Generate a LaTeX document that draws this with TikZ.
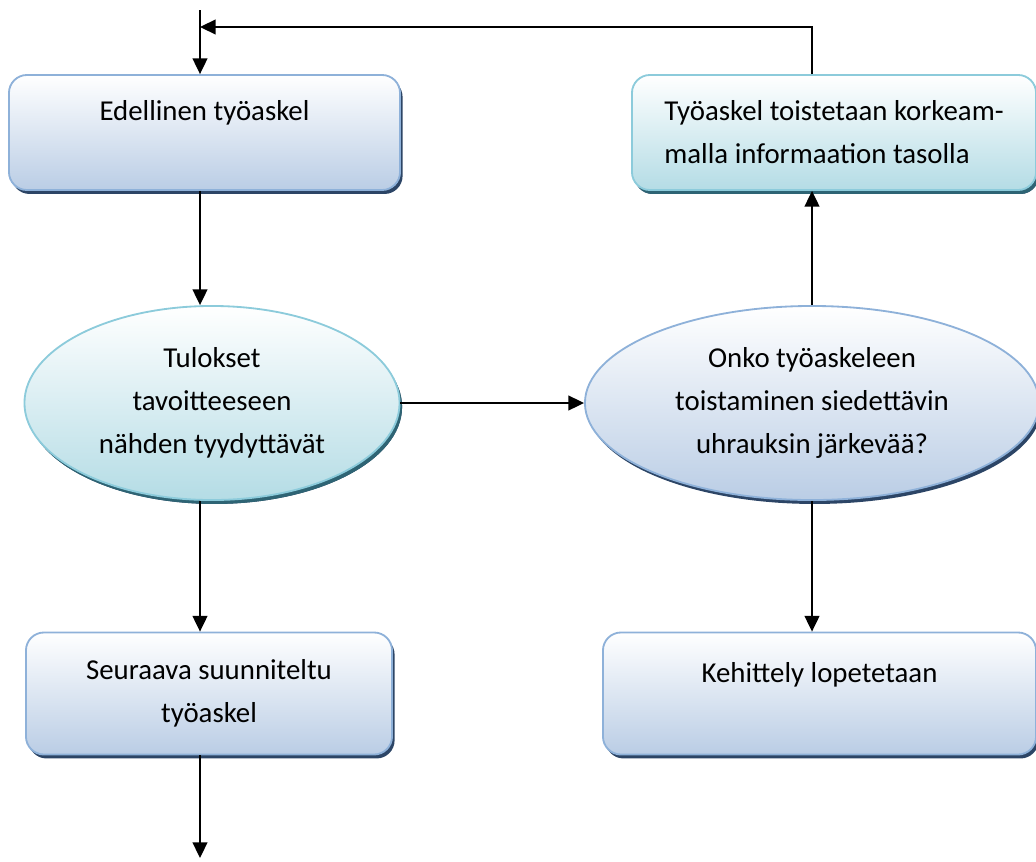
\documentclass[tikz,border=0pt]{standalone}
\usepackage{fontspec}
\setmainfont{Carlito}
\usetikzlibrary{arrows.meta,shapes.geometric,shadows}

\definecolor{blueedge}{HTML}{8EB1D9}
\definecolor{bluefill}{HTML}{BACDE5}
\definecolor{blueshade}{HTML}{2C4566}
\definecolor{tealedge}{HTML}{8CCBDB}
\definecolor{tealfill}{HTML}{B4DCE5}
\definecolor{tealshade}{HTML}{2E6474}

\tikzset{every node/.style={font=\fontsize{20.5}{30.6}\selectfont,inner sep=0pt,align=center}}
\tikzset{stepbox/.style={rectangle,rounded corners=0.45cm,line width=1.3pt,draw=blueedge,top color=white,bottom color=bluefill,minimum height=2.875cm,drop shadow={shadow xshift=1.8pt,shadow yshift=-2.8pt,fill=blueshade,opacity=1}}}
\tikzset{tealbox/.style={stepbox,draw=tealedge,bottom color=tealfill,drop shadow={shadow xshift=1.8pt,shadow yshift=-2.8pt,fill=tealshade,opacity=1}}}
\tikzset{askoval/.style={ellipse,line width=1.3pt,draw=blueedge,top color=white,bottom color=bluefill,minimum height=4.85cm,drop shadow={shadow xshift=1.8pt,shadow yshift=-2.8pt,fill=blueshade,opacity=1}}}
\tikzset{tealoval/.style={askoval,draw=tealedge,bottom color=tealfill,drop shadow={shadow xshift=1.8pt,shadow yshift=-2.8pt,fill=tealshade,opacity=1}}}
\tikzset{flow/.style={-{Triangle[length=0.39cm,width=0.37cm]},line width=1pt,black}}

\begin{document}
\begin{tikzpicture}[x=0.025cm,y=-0.025cm]
\useasboundingbox (0,0) rectangle (1036,861);

\coordinate (start) at (200,10);
\coordinate (back) at (200,27);
\coordinate (end) at (200,858);

\node[stepbox,minimum width=9.775cm] (prev) at (204.5,132.5) {Edellinen työaskel\\ ~};
\node[tealbox,minimum width=10.1cm,align=left] (repeat) at (834,132.5) {Työaskel toistetaan korkeam-\\malla informaation tasolla};
\node[tealoval,minimum width=9.375cm] (result) at (212,403) {Tulokset\\tavoitteeseen\\nähden tyydyttävät};
\node[askoval,minimum width=11.35cm] (decide) at (812,403) {Onko työaskeleen\\toistaminen siedettävin\\uhrauksin järkevää?};
\node[stepbox,minimum width=9.15cm,minimum height=3.05cm] (next) at (209,693.5) {Seuraava suunniteltu\\työaskel};
\node[stepbox,minimum width=10.825cm,minimum height=3.05cm] (stop) at (819.5,693.5) {Kehittely lopetetaan\\ ~};

\draw[flow] (start) -- (start |- prev.north);
\draw[flow] (start |- prev.south) -- (start |- result.north);
\draw[flow] (result.east) -- (decide.west);
\draw[flow] (decide.north) -- (decide.north |- repeat.south);
\draw[flow] (decide.north |- repeat.north) |- (back);
\draw[flow] (start |- result.south) -- (start |- next.north);
\draw[flow] (decide.south) -- (decide.south |- stop.north);
\draw[flow] (start |- next.south) -- (end);
\end{tikzpicture}
\end{document}
